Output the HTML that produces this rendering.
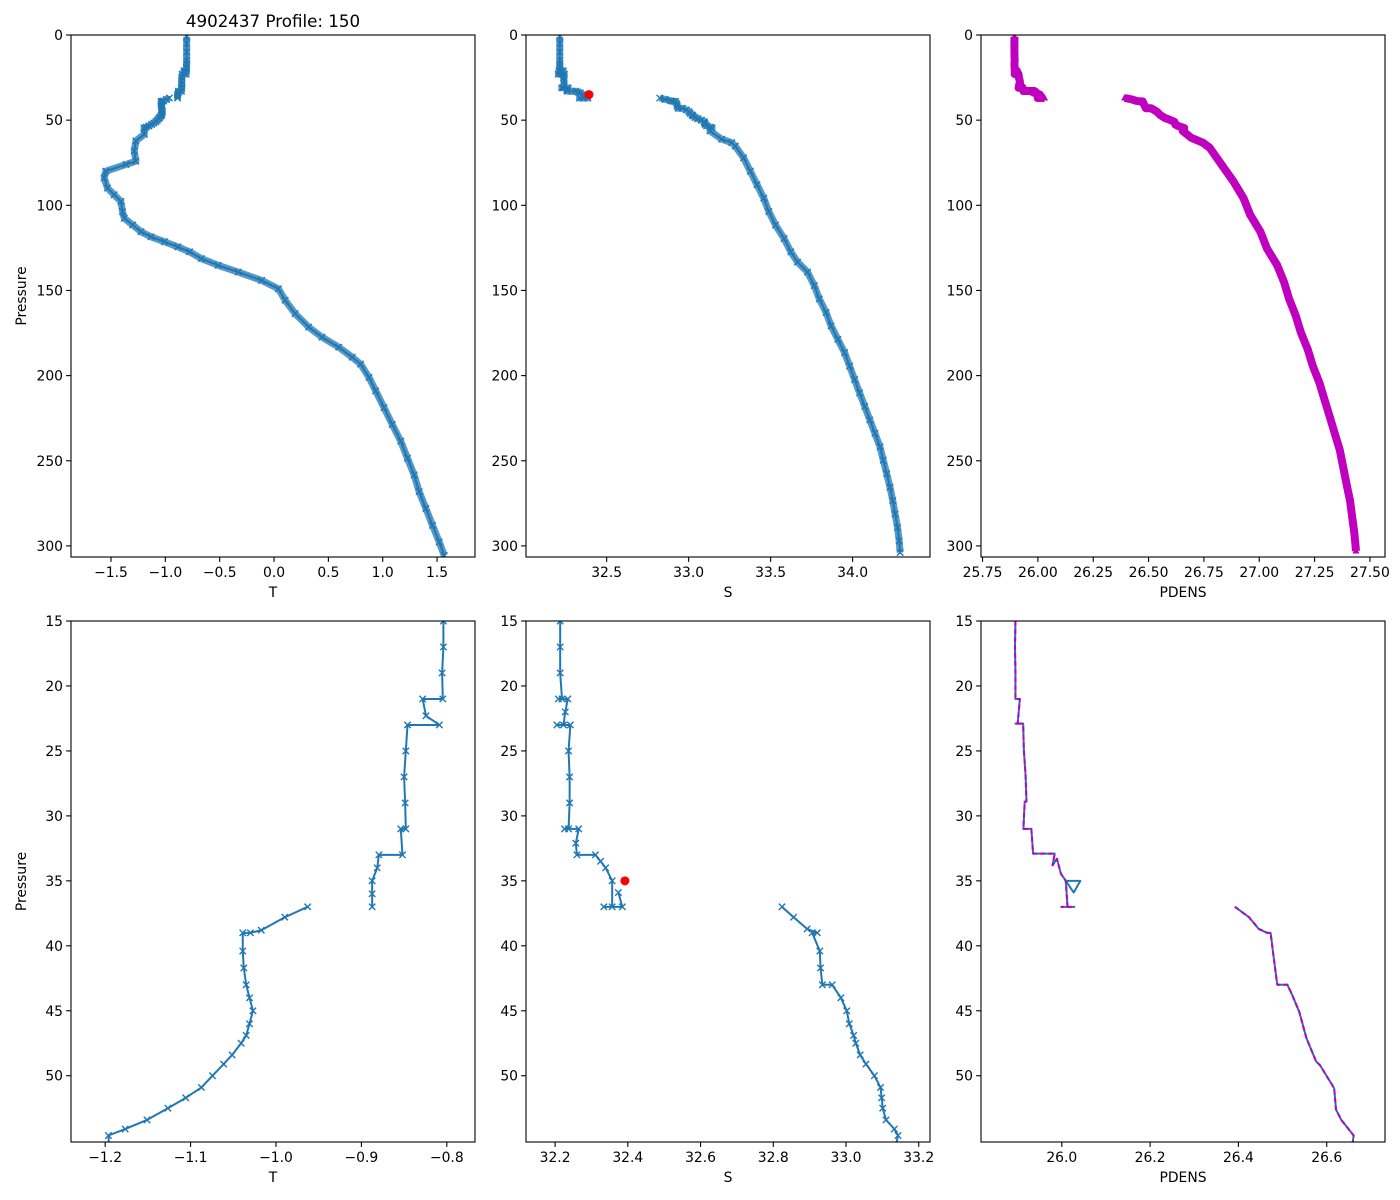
<!DOCTYPE html>
<html><head><meta charset="utf-8"><title>4902437 Profile: 150</title>
<style>
html,body{margin:0;padding:0;background:#fff;overflow:hidden;width:1400px;height:1200px;}
svg{display:block;font-family:"DejaVu Sans","Liberation Sans",sans-serif;}
</style></head>
<body>
<svg id="fig" width="1400" height="1200" viewBox="0 0 1400 1200" xmlns="http://www.w3.org/2000/svg"></svg>
<script>
// ---- data (pressure in dbar) ----
const surfP = [1, 5, 10];
const surfT = [-0.804, -0.804, -0.804];
const surfS = [32.214, 32.214, 32.214];
const surfD = [25.894, 25.894, 25.894];

const upTP = [15,17,19,21,21,22.3,23,23,25,27,29,31,31,33,33,34,35,36,37];
const upT  = [-0.804,-0.804,-0.8055,-0.8047,-0.8283,-0.8244,-0.8087,-0.846,-0.848,-0.850,-0.8488,-0.848,-0.8539,-0.8519,-0.8795,-0.8815,-0.8874,-0.8874,-0.8874];

const upSP = [15,17,19,21,21,21,22,23,23,23,25,27,29,31,31,31,32.1,33,33,33.5,34,35,37,37,37,35.9];
const upS  = [32.214,32.214,32.214,32.219,32.209,32.235,32.228,32.223,32.205,32.242,32.237,32.240,32.240,32.237,32.226,32.265,32.257,32.260,32.311,32.325,32.339,32.357,32.357,32.334,32.385,32.374];

const upDP = [15,17,19,21,21,22.9,22.9,22.9,24.9,26.9,28.9,28.9,31,31,32.9,32.9,33.8,33.3,34.45,35,37,37,37];
const upD  = [25.895,25.894,25.895,25.895,25.905,25.900,25.895,25.9125,25.914,25.918,25.920,25.916,25.913,25.931,25.935,25.984,25.979,25.989,25.998,26.009,26.013,25.999,26.030];
const blueDP = [15,17,19,21,21,22.9,22.9,22.9,24.9,26.9,28.9,28.9,31,31,32.9,32.9,33.8,33.3,34.45,35,35,35.9,35,37,37,37];
const blueD  = [25.895,25.894,25.895,25.895,25.905,25.900,25.895,25.9125,25.914,25.918,25.920,25.916,25.913,25.931,25.935,25.984,25.979,25.989,25.998,26.009,26.042,26.027,26.009,26.013,25.999,26.030];

const loTP = [37,37.8,38.8,39,39,40.4,41.7,43,44,45,46,46.9,47.5,48.4,49.1,50,50.9,51.7,52.5,53.4,54.1,54.6];
const loT  = [-0.9629,-0.9897,-1.0172,-1.0300,-1.0389,-1.0389,-1.0377,-1.0349,-1.031,-1.027,-1.031,-1.0349,-1.0408,-1.0514,-1.0613,-1.0743,-1.0873,-1.1057,-1.1266,-1.151,-1.1766,-1.1962];
const loSP = [37,37.8,38.7,39,39,40.4,41.7,43,43,44,45,46,46.9,47.5,48.4,49.1,50,50.9,51.7,52.5,53.4,54.1,54.6];
const loS  = [32.824,32.856,32.893,32.921,32.907,32.928,32.930,32.935,32.962,32.986,33.002,33.009,33.021,33.027,33.039,33.055,33.078,33.095,33.098,33.101,33.110,33.133,33.143];
const loDP = [37,37.8,38.7,39,39,40.4,41.7,43,43,43.8,45.1,47.1,48.9,49.2,50.8,51,52.6,53.4,54.6];
const loD  = [26.392,26.424,26.446,26.465,26.473,26.478,26.483,26.488,26.511,26.522,26.538,26.554,26.576,26.585,26.614,26.617,26.621,26.633,26.661];

const deepTP = [58.3,62.2,68.1,74.1,76.0,80.0,83.9,89.9,93.8,97.7,103.7,107.6,111.5,115.5,118.5,121.4,124.4,127.3,131.3,135.2,139.2,144.1,149.0,155.7,163.6,171.5,177.4,183.3,189.2,193.2,201.0,208.9,218.8,228.7,238.5,248.4,258.3,268.1,278.0,287.9,297.7,305.6];
const deepT  = [-1.193,-1.271,-1.286,-1.271,-1.362,-1.548,-1.563,-1.532,-1.471,-1.409,-1.394,-1.378,-1.301,-1.224,-1.132,-1.008,-0.885,-0.777,-0.669,-0.515,-0.330,-0.114,0.040,0.102,0.194,0.318,0.441,0.595,0.719,0.796,0.873,0.935,1.012,1.088,1.166,1.227,1.289,1.335,1.397,1.458,1.520,1.566];
const deepSP = [56.3,61.2,63.2,65.2,72.1,80.0,87.9,95.8,103.7,111.6,119.5,127.3,133.3,139.2,147.1,155.0,162.9,170.8,178.7,186.5,194.4,202.3,210.2,218.1,226.0,233.9,241.8,249.7,257.6,265.5,273.4,281.3,289.2,297.0,303.9];
const deepS  = [33.130,33.202,33.263,33.284,33.335,33.376,33.417,33.458,33.489,33.530,33.582,33.623,33.664,33.725,33.766,33.797,33.838,33.869,33.910,33.951,33.982,34.012,34.043,34.074,34.105,34.136,34.167,34.187,34.208,34.228,34.245,34.259,34.274,34.284,34.290];
const deepDP = [56.3,60.3,63.2,66.2,76.0,85.9,95.8,105.6,115.5,125.4,135.2,145.1,155.0,164.9,174.7,184.6,194.4,204.3,214.2,224.0,233.9,243.8,253.6,263.5,273.4,283.2,293.1,303.0];
const deepD  = [26.654,26.692,26.745,26.776,26.829,26.883,26.929,26.959,27.005,27.035,27.081,27.112,27.135,27.165,27.188,27.219,27.242,27.272,27.295,27.318,27.341,27.364,27.379,27.394,27.410,27.420,27.430,27.437];

const flagP = [35];
const flagS = [32.392];

const topYTicks = [0,50,100,150,200,250,300];
const botYTicks = [15,20,25,30,35,40,45,50];
const topTTicks = [-1.5,-1.0,-0.5,0.0,0.5,1.0,1.5];
const topSTicks = [32.5,33.0,33.5,34.0];
const topDTicks = [25.75,26.00,26.25,26.50,26.75,27.00,27.25,27.50];
const botTTicks = [-1.2,-1.1,-1.0,-0.9,-0.8];
const botSTicks = [32.2,32.4,32.6,32.8,33.0,33.2];
const botDTicks = [26.0,26.2,26.4,26.6];

// ---- drawing ----
const NS = 'http://www.w3.org/2000/svg';
const fig = document.getElementById('fig');
const BLUE = '#1f77b4', MAG = '#bf00bf';
function el(tag, parent){ const e = document.createElementNS(NS, tag); parent.appendChild(e); return e; }
function fmt(v, d){ const s = Math.abs(v).toFixed(d); return (v < 0 ? '\u2212' : '') + s; }

function makePanel(id, x0, y0, w, h, xlim, ylim, xticks, xdec, yticks, xlabel, ylabel){
  const g = el('g', fig);
  
  
  const sx = v => x0 + (v - xlim[0]) / (xlim[1] - xlim[0]) * w;
  const sy = v => y0 + (v - ylim[0]) / (ylim[1] - ylim[0]) * h;
  const cp = el('clipPath', g); cp.setAttribute('id', 'clip-' + id);
  const cr = el('rect', cp); cr.setAttribute('x', x0); cr.setAttribute('y', y0); cr.setAttribute('width', w); cr.setAttribute('height', h);
  const plot = el('g', g); plot.setAttribute('clip-path', 'url(#clip-' + id + ')');
  
  
  xticks.forEach(t => {
    const x = sx(t);
    const l = el('line', g); l.setAttribute('x1', x); l.setAttribute('x2', x); l.setAttribute('y1', y0 + h); l.setAttribute('y2', y0 + h + 4.9); l.setAttribute('stroke', '#000'); l.setAttribute('stroke-width', 1.1);
    
    
    const tx = el('text', g); tx.setAttribute('x', x); tx.setAttribute('y', y0 + h + 20); tx.setAttribute('text-anchor', 'middle'); tx.setAttribute('font-size', '13.9'); tx.textContent = fmt(t, xdec);
    
    
  });
  yticks.forEach(t => {
    const y = sy(t);
    const l = el('line', g); l.setAttribute('x1', x0 - 4.9); l.setAttribute('x2', x0); l.setAttribute('y1', y); l.setAttribute('y2', y); l.setAttribute('stroke', '#000'); l.setAttribute('stroke-width', 1.1);
    
    
    const tx = el('text', g); tx.setAttribute('x', x0 - 8); tx.setAttribute('y', y + 5); tx.setAttribute('text-anchor', 'end'); tx.setAttribute('font-size', '13.9'); tx.textContent = String(t);
    
    
  });
  const xl = el('text', g); xl.setAttribute('x', x0 + w / 2); xl.setAttribute('y', y0 + h + 40); xl.setAttribute('text-anchor', 'middle'); xl.setAttribute('font-size', '13.9'); xl.textContent = xlabel;
  
  
  if (ylabel){
    const yl = el('text', g); yl.setAttribute('transform', 'translate(' + (x0 - 45) + ',' + (y0 + h / 2) + ') rotate(-90)'); yl.setAttribute('text-anchor', 'middle'); yl.setAttribute('font-size', '13.9'); yl.textContent = ylabel;
    
    
  }
  return {g, plot, sx, sy, frame: () => {
    const r = el('rect', g); r.setAttribute('x', x0); r.setAttribute('y', y0); r.setAttribute('width', w); r.setAttribute('height', h); r.setAttribute('fill', 'none'); r.setAttribute('stroke', '#000'); r.setAttribute('stroke-width', 1.1);
    
    
  }};
}

function pathD(p, xs, ps){ return xs.map((v, i) => (i ? 'L' : 'M') + p.sx(v).toFixed(2) + ' ' + p.sy(ps[i]).toFixed(2)).join(' '); }

function line(p, xs, ps, color, width, name, dash, opacity){
  const e = el('path', p.plot);
  e.setAttribute('d', pathD(p, xs, ps)); e.setAttribute('fill', 'none'); e.setAttribute('stroke', color); e.setAttribute('stroke-width', width); e.setAttribute('stroke-linejoin', 'round');
  if (dash) e.setAttribute('stroke-dasharray', dash);
  if (opacity) e.setAttribute('stroke-opacity', opacity);
  
  
}
function xMarkers(p, xs, ps, name){
  let d = '';
  xs.forEach((v, i) => { const x = p.sx(v), y = p.sy(ps[i]); d += 'M' + (x - 3.2) + ' ' + (y - 3.2) + 'L' + (x + 3.2) + ' ' + (y + 3.2) + 'M' + (x - 3.2) + ' ' + (y + 3.2) + 'L' + (x + 3.2) + ' ' + (y - 3.2); });
  const e = el('path', p.plot); e.setAttribute('d', d); e.setAttribute('stroke', BLUE); e.setAttribute('stroke-width', 1.4); e.setAttribute('fill', 'none');
  
  
}
function triMarkers(p, xs, ps, name){
  let d = '';
  xs.forEach((v, i) => { const x = p.sx(v), y = p.sy(ps[i]); d += 'M' + x + ' ' + (y - 4) + 'L' + (x + 3.6) + ' ' + (y + 2.5) + 'L' + (x - 3.6) + ' ' + (y + 2.5) + 'Z'; });
  const e = el('path', p.plot); e.setAttribute('d', d); e.setAttribute('fill', MAG);
  
  
}
function dots(p, xs, ps, name){
  xs.forEach((v, i) => {
    const c = el('circle', p.plot); c.setAttribute('cx', p.sx(v)); c.setAttribute('cy', p.sy(ps[i])); c.setAttribute('r', 4.5); c.setAttribute('fill', 'red');
    
    
  });
}
const cat = (...a) => [].concat(...a);

const title = el('text', fig);
title.setAttribute('x', 273); title.setAttribute('y', 27); title.setAttribute('text-anchor', 'middle'); title.setAttribute('font-size', '16.7');
title.textContent = '4902437 Profile: 150';



const TOPY = [0, 306.5], BOTY = [15, 55.1];

const p1 = makePanel('top-temperature', 71, 35, 404, 522, [-1.868, 1.849], TOPY, topTTicks, 1, topYTicks, 'T', 'Pressure');
const t1a = [cat(surfT, upT), cat(surfP, upTP)], t1b = [cat(loT, deepT), cat(loTP, deepTP)];
[t1a, t1b].forEach(s => { line(p1, s[0], s[1], BLUE, 7, 'temperature-marker-band', null, 0.75); line(p1, s[0], s[1], BLUE, 2, 'temperature-line'); xMarkers(p1, s[0], s[1], 'temperature-markers'); });
p1.frame();

const p2 = makePanel('top-salinity', 526, 35, 404, 522, [32.008, 34.472], TOPY, topSTicks, 1, topYTicks, 'S', null);
const s2a = [cat(surfS, upS), cat(surfP, upSP)], s2b = [cat(loS, deepS), cat(loSP, deepSP)];
[s2a, s2b].forEach(s => { line(p2, s[0], s[1], BLUE, 7, 'salinity-marker-band', null, 0.75); line(p2, s[0], s[1], BLUE, 2, 'salinity-line'); xMarkers(p2, s[0], s[1], 'salinity-markers'); });
dots(p2, flagS, flagP, 'flagged-salinity-point');
p2.frame();

const p3 = makePanel('top-density', 981, 35, 404, 522, [25.743, 27.568], TOPY, topDTicks, 2, topYTicks, 'PDENS', null);
const d3a = [cat(surfD, upD), cat(surfP, upDP)], d3b = [cat(loD, deepD), cat(loDP, deepDP)];
[d3a, d3b].forEach(s => { line(p3, s[0], s[1], BLUE, 2, 'density-line'); line(p3, s[0], s[1], MAG, 8, 'density-marker-band'); triMarkers(p3, s[0], s[1], 'density-markers'); });
p3.frame();

const p4 = makePanel('zoom-temperature', 71, 621, 404, 521, [-1.240, -0.767], BOTY, botTTicks, 1, botYTicks, 'T', 'Pressure');
[[upT, upTP], [loT, loTP], [deepT, deepTP]].forEach(s => { line(p4, s[0], s[1], BLUE, 2, 'temperature-line'); xMarkers(p4, s[0], s[1], 'temperature-markers'); });
line(p4, [loT[loT.length - 1], deepT[0]], [loTP[loTP.length - 1], deepTP[0]], BLUE, 2, 'temperature-line');
p4.frame();

const p5 = makePanel('zoom-salinity', 526, 621, 404, 521, [32.120, 33.231], BOTY, botSTicks, 1, botYTicks, 'S', null);
[[upS, upSP], [cat(loS, deepS.slice(0, 1)), cat(loSP, deepSP.slice(0, 1))]].forEach(s => { line(p5, s[0], s[1], BLUE, 2, 'salinity-line'); xMarkers(p5, s[0], s[1], 'salinity-markers'); });
dots(p5, flagS, flagP, 'flagged-salinity-point');
p5.frame();

const p6 = makePanel('zoom-density', 981, 621, 404, 521, [25.817, 26.732], BOTY, botDTicks, 1, botYTicks, 'PDENS', null);
line(p6, blueD, blueDP, BLUE, 2, 'density-line-solid');
line(p6, cat(loD, deepD.slice(0, 1)), cat(loDP, deepDP.slice(0, 1)), BLUE, 2, 'density-line-solid');
line(p6, upD, upDP, MAG, 2, 'density-line-dashed', '5,3');
line(p6, cat(loD, deepD.slice(0, 1)), cat(loDP, deepDP.slice(0, 1)), MAG, 2, 'density-line-dashed', '5,3');
p6.frame();
</script>
</body></html>
